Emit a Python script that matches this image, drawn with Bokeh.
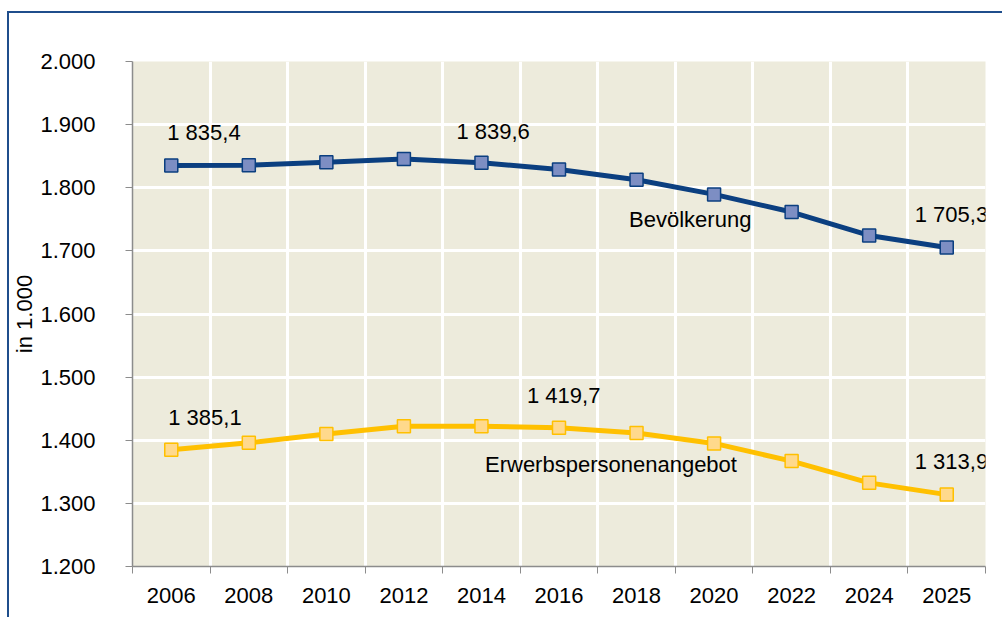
from bokeh.plotting import figure
from bokeh.models import FixedTicker, ColumnDataSource, Range1d, LabelSet
from bokeh.embed import file_html
from bokeh.resources import INLINE
from bokeh.core.properties import value

# ---- data ----
years = ["2006", "2008", "2010", "2012", "2014", "2016", "2018", "2020", "2022", "2024", "2025"]
bevoelkerung = [1835.4, 1835.8, 1840.3, 1845.5, 1839.6, 1829.0, 1812.7, 1789.5, 1761.5, 1724.5, 1705.3]
erwerbspersonen = [1385.1, 1396.0, 1410.0, 1422.3, 1422.3, 1419.7, 1411.5, 1395.0, 1367.0, 1332.5, 1313.9]
y_ticks = [1200, 1300, 1400, 1500, 1600, 1700, 1800, 1900, 2000]
bev_label_idx = [0, 4, 10]
erw_label_idx = [0, 5, 10]
series_names = ["Bevölkerung", "Erwerbspersonenangebot"]
y_axis_title = "in 1.000"

FONT = "Liberation Sans"
FS = "22px"
BLUE_LINE = "#0B3F80"
BLUE_FILL = "#7D8EC3"
YEL_LINE = "#FFC000"
YEL_FILL = "#FFD98C"
FRAME = "#1F4E8C"


def de_thousands(v):
    return f"{int(v):,}".replace(",", ".")


def de_value(v):
    s = f"{v:,.1f}"
    return s.replace(",", " ").replace(".", ",")


xs = [i + 0.5 for i in range(len(years))]

p = figure(width=995, height=606, output_backend="svg", toolbar_location=None,
           x_range=Range1d(0, len(years)), y_range=Range1d(1200, 2000),
           min_border_left=123, min_border_right=19, min_border_top=48, min_border_bottom=53)
p.styles = {"margin-left": "7px", "margin-top": "11px",
            "border-left": f"2px solid {FRAME}", "border-top": f"2px solid {FRAME}"}
p.background_fill_color = "#EDEBDC"
p.border_fill_color = "white"
p.outline_line_color = None

# axes
p.xaxis.ticker = FixedTicker(ticks=xs, minor_ticks=list(range(len(years) + 1)))
p.xaxis.major_label_overrides = {x: y for x, y in zip(xs, years)}
p.xaxis.major_tick_line_color = None
p.xaxis.minor_tick_line_color = "#8C8C8C"
p.xaxis.minor_tick_out = 7
p.xaxis.minor_tick_in = 0
p.xaxis.major_label_standoff = 14
p.yaxis.ticker = FixedTicker(ticks=y_ticks)
p.yaxis.major_label_overrides = {t: de_thousands(t) for t in y_ticks}
p.yaxis.major_tick_out = 7
p.yaxis.major_tick_in = 0
p.yaxis.major_tick_line_color = "#8C8C8C"
p.yaxis.major_label_standoff = 30
p.yaxis.axis_label = y_axis_title
p.yaxis.axis_label_standoff = 0
p.yaxis.axis_label_text_font_style = "normal"
for ax in (p.xaxis[0], p.yaxis[0]):
    ax.axis_line_color = "#8C8C8C"
    ax.axis_line_width = 1.5
    ax.major_label_text_font = FONT
    ax.major_label_text_font_size = FS
    ax.major_label_text_color = "black"
    ax.axis_label_text_font = FONT
    ax.axis_label_text_font_size = FS
    ax.axis_label_text_color = "black"

p.xgrid.ticker = FixedTicker(ticks=list(range(1, len(years))))
p.xgrid.grid_line_color = "white"
p.xgrid.grid_line_width = 3
p.ygrid.grid_line_color = "white"
p.ygrid.grid_line_width = 3

src = ColumnDataSource(dict(x=xs, bev=bevoelkerung, erw=erwerbspersonen))

p.line("x", "bev", source=src, line_color=BLUE_LINE, line_width=5)
p.scatter("x", "bev", source=src, marker="square", size=13, fill_color=BLUE_FILL,
          line_color=BLUE_LINE, line_width=1.5)
p.line("x", "erw", source=src, line_color=YEL_LINE, line_width=5)
p.scatter("x", "erw", source=src, marker="square", size=13, fill_color=YEL_FILL,
          line_color=YEL_LINE, line_width=1.5)

# data labels (offsets in screen px, positive y = up)
lab = ColumnDataSource(dict(
    x=[xs[i] for i in bev_label_idx] + [xs[i] for i in erw_label_idx],
    y=[bevoelkerung[i] for i in bev_label_idx] + [erwerbspersonen[i] for i in erw_label_idx],
    t=[de_value(bevoelkerung[i]) for i in bev_label_idx] + [de_value(erwerbspersonen[i]) for i in erw_label_idx],
    dx=[-4, -25, -32, -3, -32, -32],
    dy=[33, 31, 33, 32, 32, 33],
))
p.add_layout(LabelSet(x="x", y="y", text="t", source=lab, x_offset="dx", y_offset="dy",
                      text_font=value(FONT), text_font_size=value(FS), text_color="black",
                      text_align="left", text_baseline="middle"))

# series name labels anchored to points
names = ColumnDataSource(dict(
    x=[xs[7], xs[5]],
    y=[bevoelkerung[7], erwerbspersonen[5]],
    t=series_names,
    dx=[-85, -74],
    dy=[-25, -37],
))
p.add_layout(LabelSet(x="x", y="y", text="t", source=names, x_offset="dx", y_offset="dy",
                      text_font=value(FONT), text_font_size=value(FS), text_color="black",
                      text_align="left", text_baseline="middle"))

open("out.html", "w").write(file_html(p, INLINE))
